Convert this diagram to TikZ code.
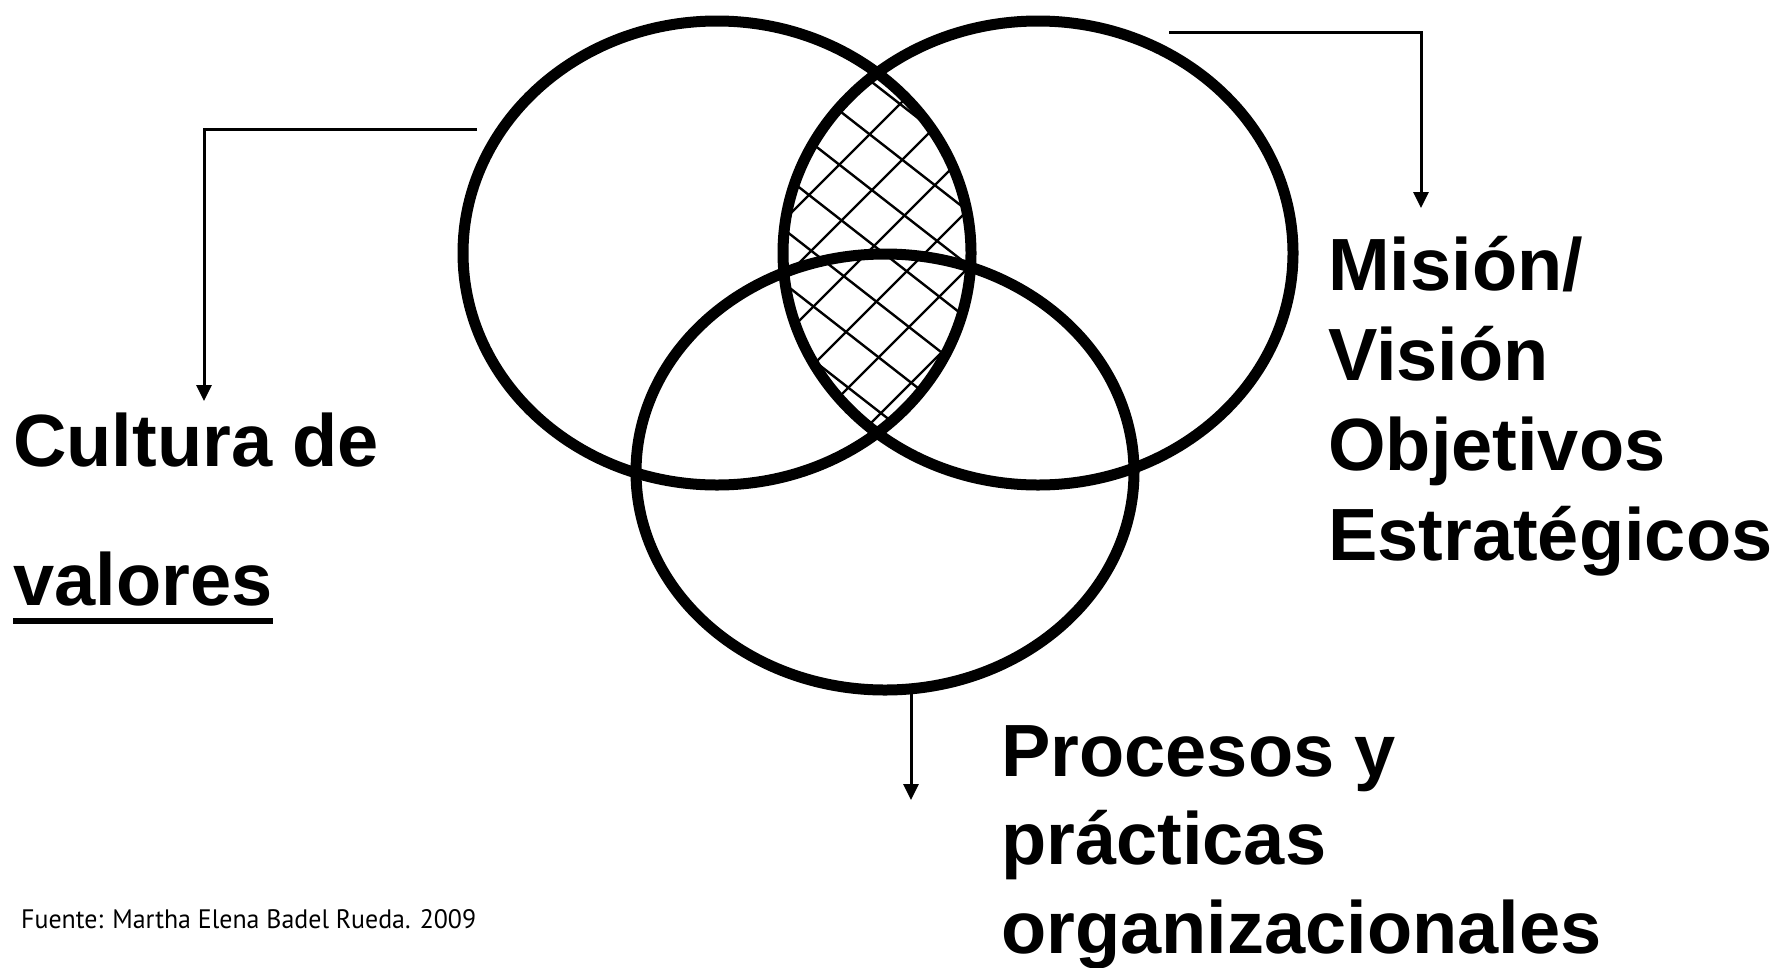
\documentclass[tikz,border=0pt]{standalone}
\usepackage{fontspec}
\setmainfont{Liberation Sans}
\newfontfamily\srcfont{PT Sans}
\usetikzlibrary{arrows.meta}
\begin{document}
\begin{tikzpicture}[x=1pt,y=-1pt,
  ring/.style={line width=11pt},
  hatchline/.style={line width=2.4pt},
  conn/.style={line width=3pt,-{Triangle[width=15pt,length=16pt]}},
  lbl/.style={anchor=base west,inner sep=0pt,font=\bfseries\fontsize{74}{88}\selectfont},
]
\useasboundingbox (0,0) rectangle (1791,967);
\fill[white] (0,0) rectangle (1791,967);
% cross-hatching of the intersection of the two upper ellipses
\begin{scope}
  \clip (717,253) ellipse [x radius=254pt, y radius=232pt];
  \clip (1038,253) ellipse [x radius=255pt, y radius=232pt];
  \foreach \c in {830,888,...,1480}
    \draw[hatchline] (\c-500,500) -- (\c,0);
  \foreach \c in {-760,-706,...,-100}
    \draw[hatchline] (700,{\c+0.78*700}) -- (1100,{\c+0.78*1100});
\end{scope}
% ellipses
\draw[ring] (717,253) ellipse [x radius=254pt, y radius=232pt];
\draw[ring] (1038,253) ellipse [x radius=255pt, y radius=232pt];
\draw[ring] (885,472) ellipse [x radius=249pt, y radius=218pt];
% connectors
\coordinate (Lfrom) at (477,129);
\coordinate (Lto) at (204,401);
\coordinate (Rfrom) at (1169,32);
\coordinate (Rto) at (1421,208);
\coordinate (Bfrom) at (911,690);
\coordinate (Bto) at (911,800);
\draw[conn] (Lfrom) -| (Lto);
\draw[conn] (Rfrom) -| (Rto);
\draw[conn] (Bfrom) -- (Bto);
% labels
\node[lbl] (cult) at (13,466) {Cultura de};
\node[lbl] (valo) at (13,605) {valores};
\draw[line width=6pt] ([yshift=-16pt]valo.base west) -- ([yshift=-16pt]valo.base east);
\node[lbl] (mis) at (1328,290) {Misión/};
\node[lbl] (vis) at (1328,380) {Visión};
\node[lbl] (obj) at (1328,470) {Objetivos};
\node[lbl] (est) at (1328,560) {Estratégicos};
\node[lbl] (proc) at (1001,776) {Procesos y};
\node[lbl] (prac) at (1001,864) {prácticas};
\node[lbl] (org) at (1001,953) {organizacionales};
\node[anchor=base west,inner sep=0pt] (src) at (21,928)
  {\resizebox{455pt}{19pt}{\srcfont Fuente: Martha Elena Badel Rueda. 2009}};
\end{tikzpicture}
\end{document}
